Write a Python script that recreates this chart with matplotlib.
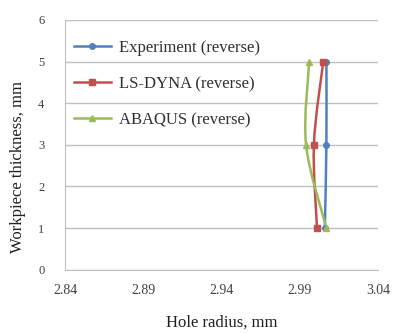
import matplotlib.pyplot as plt
from matplotlib.path import Path
from matplotlib.patches import PathPatch

plt.rcParams['font.family'] = ['Liberation Serif', 'DejaVu Serif']

thickness = [1, 3, 5]
experiment = [3.006, 3.007, 3.007]
ls_dyna = [3.001, 2.999, 3.005]
abaqus = [3.007, 2.994, 2.996]

series = [
    ('Experiment (reverse)', experiment, '#4F81BD', 'o', 4),
    ('LS-DYNA (reverse)', ls_dyna, '#C0504D', 's', 5),
    ('ABAQUS (reverse)', abaqus, '#9BBB59', '^', 5),
]


def smooth_path(xs, ys):
    # Catmull-Rom style bezier through the points (like Excel "smoothed line")
    pts = list(zip(xs, ys))
    verts = [pts[0]]
    codes = [Path.MOVETO]
    n = len(pts)
    for i in range(n - 1):
        p0 = pts[i - 1] if i > 0 else pts[i]
        p1 = pts[i]
        p2 = pts[i + 1]
        p3 = pts[i + 2] if i + 2 < n else pts[i + 1]
        c1 = (p1[0] + (p2[0] - p0[0]) / 6, p1[1] + (p2[1] - p0[1]) / 6)
        c2 = (p2[0] - (p3[0] - p1[0]) / 6, p2[1] - (p3[1] - p1[1]) / 6)
        verts += [c1, c2, p2]
        codes += [Path.CURVE4] * 3
    return Path(verts, codes)


fig = plt.figure(figsize=(3.95, 3.33), dpi=100)
ax = fig.add_axes([0.165, 0.19, 0.792, 0.75])

for name, xs, color, marker, ms in series:
    ax.add_patch(PathPatch(smooth_path(xs, thickness), facecolor='none',
                           edgecolor=color, lw=1.8))
    ax.plot(xs, thickness, linestyle='none', marker=marker, color=color,
            markersize=ms)
    ax.plot([], [], color=color, marker=marker, markersize=ms, lw=1.8,
            label=name)

ax.set_xlim(2.84, 3.04)
ax.set_ylim(0, 6)
ax.set_xticks([2.84, 2.89, 2.94, 2.99, 3.04])
ax.set_xticklabels(['2.84', '2.89', '2.94', '2.99', '3.04'])
ax.set_yticks(range(7))
ax.grid(axis='y', color='#BFBFBF', lw=1)
ax.set_axisbelow(True)
for s in ['top', 'right']:
    ax.spines[s].set_visible(False)
ax.spines['left'].set_color('#BFBFBF')
ax.spines['bottom'].set_color('#BFBFBF')
ax.tick_params(length=0, colors='#404040')
ax.tick_params(axis='x', pad=10, labelsize=10)
ax.tick_params(axis='y', pad=15, labelsize=9)
ax.set_xlabel('Hole radius, mm', fontsize=12, color='#202020', labelpad=13)
ax.set_ylabel('Workpiece thickness, mm', fontsize=12, color='#202020',
              labelpad=3)
ax.yaxis.set_label_coords(-0.125, 0.41)
ax.legend(loc='upper left', frameon=False, fontsize=12, labelcolor='#303030',
          bbox_to_anchor=(-0.02, 0.98), labelspacing=1.2, handlelength=2.2,
          handletextpad=0.5)

fig.savefig('out.png', dpi=100)
